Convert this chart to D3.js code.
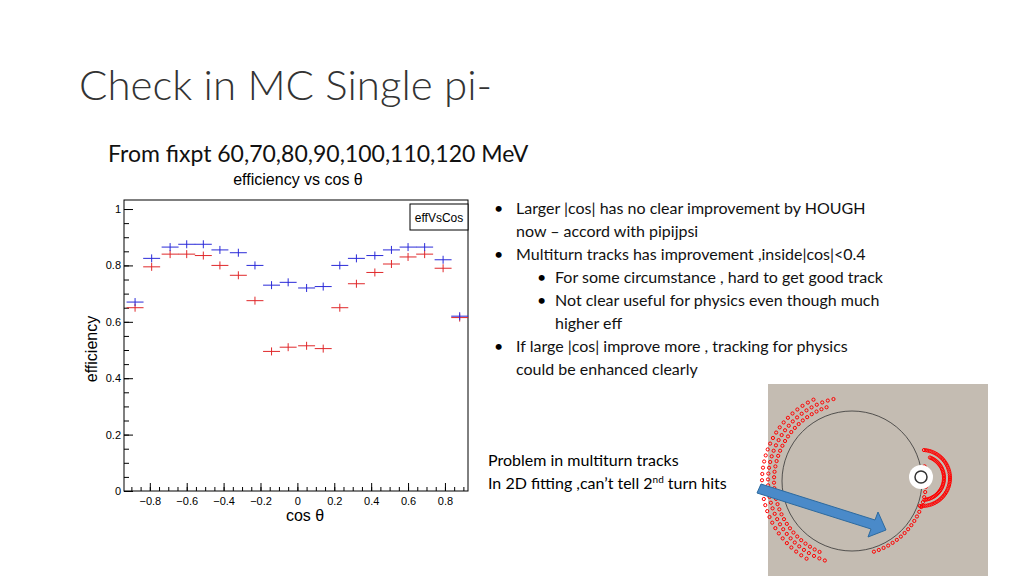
<!DOCTYPE html>
<html><head><meta charset="utf-8">
<script src="https://cdn.jsdelivr.net/npm/d3@7"></script>
<style>body{margin:0;background:#fff}svg{display:block}</style>
</head><body>
<svg id="s" width="1024" height="576"></svg>
<script>
var binCenters = [-0.88,-0.79,-0.69,-0.60,-0.51,-0.42,-0.32,-0.23,-0.14,-0.05,0.05,0.14,0.23,0.32,0.42,0.51,0.60,0.69,0.79,0.88];
var houghEff = [0.67,0.825,0.865,0.875,0.875,0.855,0.845,0.80,0.73,0.74,0.72,0.725,0.80,0.825,0.835,0.855,0.865,0.865,0.82,0.62];
var oldEff = [0.65,0.795,0.84,0.84,0.835,0.80,0.765,0.675,0.495,0.51,0.515,0.505,0.65,0.735,0.775,0.805,0.83,0.84,0.79,0.615];
var xTicks = [-0.8,-0.6,-0.4,-0.2,0,0.2,0.4,0.6,0.8];
var yTicks = [0,0.2,0.4,0.6,0.8,1];
var bullets = [
  {lvl:0, lines:['Larger |cos| has no clear improvement by HOUGH','now \u2013 accord with pipijpsi']},
  {lvl:0, lines:['Multiturn tracks has improvement ,inside|cos|<0.4']},
  {lvl:1, lines:['For some circumstance , hard to get good track']},
  {lvl:1, lines:['Not clear useful for physics even though much','higher eff']},
  {lvl:0, lines:['If large |cos| improve more , tracking for physics','could be enhanced clearly']}
];

var svg = d3.select('#s');
var font = 'Lato, "Open Sans", sans-serif';
var arial = 'Liberation Sans, Arial, sans-serif';

svg.append('text').attr('x', 79).attr('y', 100).attr('font-family', font).attr('font-weight', 300)
    .attr('font-size', 42).attr('fill', '#333').text('Check in MC Single pi-');
svg.append('text').attr('x', 108).attr('y', 162).attr('font-family', font)
    .attr('font-size', 23).attr('fill', '#111').text('From fixpt 60,70,80,90,100,110,120 MeV');

// histogram panel
var x = d3.scaleLinear().domain([-0.94, 0.925]).range([124, 468]);
var y = d3.scaleLinear().domain([0, 1.032]).range([491, 200]);
var hw = 0.046;
var g = svg.append('g').attr('font-family', arial);

g.append('text').attr('x', 298).attr('y', 185).attr('text-anchor', 'middle')
    .attr('font-size', 16).text('efficiency vs cos \u03b8');
g.append('rect').attr('x', 124).attr('y', 200).attr('width', 344).attr('height', 291)
    .attr('fill', 'none').attr('stroke', '#000');

function styleAxis(a) {
    a.select('.domain').remove();
    a.selectAll('text').attr('font-size', 11).attr('font-family', arial);
}
g.append('g').attr('transform', 'translate(0,491)')
    .call(d3.axisBottom(x).tickValues(xTicks).tickSize(-8).tickPadding(6).tickFormat(d3.format('')))
    .call(styleAxis);
g.append('g').attr('transform', 'translate(0,491)')
    .call(d3.axisBottom(x).ticks(40).tickSize(-4).tickFormat(''))
    .call(function(a) { a.select('.domain').remove(); });
g.append('g').attr('transform', 'translate(124,0)')
    .call(d3.axisLeft(y).tickValues(yTicks).tickSize(-9).tickPadding(3).tickFormat(d3.format('')))
    .call(styleAxis);
g.append('g').attr('transform', 'translate(124,0)')
    .call(d3.axisLeft(y).tickValues(d3.range(0, 1.01, 0.05)).tickSize(-5).tickFormat(''))
    .call(function(a) { a.select('.domain').remove(); });

g.append('text').attr('x', 305).attr('y', 521).attr('text-anchor', 'middle')
    .attr('font-size', 16).text('cos \u03b8');
g.append('text').attr('transform', 'translate(97,349) rotate(-90)').attr('text-anchor', 'middle')
    .attr('font-size', 16).text('efficiency');

g.append('rect').attr('x', 410).attr('y', 204).attr('width', 58).attr('height', 26)
    .attr('fill', '#fff').attr('stroke', '#000');
g.append('text').attr('x', 439).attr('y', 222).attr('text-anchor', 'middle')
    .attr('font-size', 12).text('effVsCos');

function drawSeries(vals, color) {
    var s = g.append('g').attr('stroke', color).attr('stroke-width', 1);
    vals.forEach(function(v, i) {
        var c = binCenters[i];
        s.append('line').attr('x1', x(c - hw)).attr('x2', x(c + hw)).attr('y1', y(v)).attr('y2', y(v));
        s.append('line').attr('x1', x(c)).attr('x2', x(c)).attr('y1', y(v) - 4).attr('y2', y(v) + 4);
    });
}
drawSeries(oldEff, '#e0282a');
drawSeries(houghEff, '#2a2ad8');

// bullets
var ty = 214;
bullets.forEach(function(b) {
    var bx = b.lvl ? 537 : 494, tx = b.lvl ? 555 : 516;
    svg.append('text').attr('x', bx).attr('y', ty).attr('font-family', font).attr('font-size', 16).text('\u2022');
    b.lines.forEach(function(l) {
        svg.append('text').attr('x', tx).attr('y', ty).attr('font-family', font)
            .attr('font-size', 16).attr('fill', '#111').text(l);
        ty += 23;
    });
});

svg.append('text').attr('x', 488).attr('y', 466).attr('font-family', font).attr('font-size', 16).text('Problem in multiturn tracks');
var t2 = svg.append('text').attr('x', 488).attr('y', 489).attr('font-family', font).attr('font-size', 16);
t2.append('tspan').text('In 2D fitting ,can\u2019t tell 2');
t2.append('tspan').attr('font-size', 10).attr('dy', -6).text('nd');
t2.append('tspan').attr('dy', 6).text(' turn hits');

// event display sketch
var ev = svg.append('g');
ev.append('rect').attr('x', 768).attr('y', 384).attr('width', 220).attr('height', 192).attr('fill', '#c4bcb2');
ev.append('circle').attr('cx', 852).attr('cy', 481).attr('r', 70).attr('fill', 'none').attr('stroke', '#333').attr('stroke-width', 0.8);
var arcs = [[852,481,78,2.0,4.4],[852,481,84,1.9,4.5],[852,481,90,2.1,4.3],[922,478,28,-1.5,1.7],[922,478,22,-1.2,1.5],[852,481,74,-0.2,1.3]];
arcs.forEach(function(a) {
    d3.range(a[3], a[4], 0.07).forEach(function(t) {
        ev.append('circle').attr('cx', a[0] + a[2] * Math.cos(t)).attr('cy', a[1] + a[2] * Math.sin(t))
            .attr('r', 1.6).attr('fill', 'none').attr('stroke', '#f00');
    });
});
ev.append('circle').attr('cx', 921).attr('cy', 477).attr('r', 12).attr('fill', '#fff');
ev.append('circle').attr('cx', 921).attr('cy', 477).attr('r', 6).attr('fill', 'none').attr('stroke', '#333').attr('stroke-width', 1.5);
ev.append('path').attr('d', 'M761,484 L875,520 L878,512 L886,530 L868,537 L871,529 L757,493 Z')
    .attr('fill', '#4a8ac9').attr('stroke', '#2e6a9e');
</script>
</body></html>
